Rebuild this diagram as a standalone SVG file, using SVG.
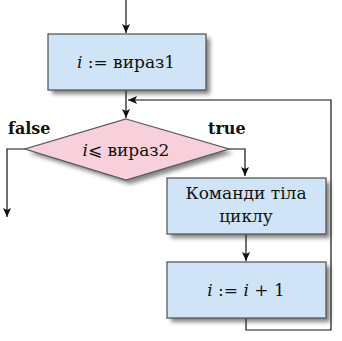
<svg xmlns="http://www.w3.org/2000/svg" width="342" height="341" viewBox="0 0 342 341">
<style>
.box{fill:#cfe4f7;stroke:#5a5a5a;stroke-width:1.3}
.dia{fill:#f8d0dc;stroke:#5a5a5a;stroke-width:1.3}
.sh{fill:#333;opacity:0.6;filter:url(#blur)}
.t{font-family:"DejaVu Serif",serif;font-size:17px;fill:#111;text-anchor:middle}
.lbl{font-family:"DejaVu Serif",serif;font-size:16px;font-weight:bold;fill:#111}
.c{fill:none;stroke:#111;stroke-width:1.2}
</style>
<defs>
<filter id="blur" x="-20%" y="-20%" width="140%" height="140%"><feGaussianBlur stdDeviation="2"/></filter>
<marker id="ah" markerWidth="10" markerHeight="10" refX="9" refY="5" orient="auto" markerUnits="userSpaceOnUse">
<path d="M0,1 L9,5 L0,9 L2,5 Z" fill="#111"/>
</marker>
</defs>
<g id="connectors">
<path class="c" d="M126,0 V33" marker-end="url(#ah)"/>
<path class="c" d="M126,90 V118" marker-end="url(#ah)"/>
<path class="c" d="M246,318 V330 H331 V100 H128" marker-end="url(#ah)"/>
<path class="c" d="M25,149 H7 V217" marker-end="url(#ah)"/>
<path class="c" d="M229,149 H245 V176" marker-end="url(#ah)"/>
<path class="c" d="M246,234 V261" marker-end="url(#ah)"/>
</g>
<g id="start">
<rect class="sh" x="52" y="38" width="158" height="56"/>
<rect class="box" x="48" y="34" width="158" height="56"/>
<text class="t" x="126" y="68"><tspan font-style="italic">i</tspan> := вираз1</text>
</g>
<g id="cond">
<polygon class="sh" points="130,123 233,153 130,184 29,153"/>
<polygon class="dia" points="126,119 229,149 126,180 25,149"/>
<text class="t" x="126" y="156"><tspan font-style="italic">i</tspan>⩽ вираз2</text>
</g>
<text class="lbl" x="8" y="134">false</text>
<text class="lbl" x="208" y="134">true</text>
<g id="body">
<rect class="sh" x="171" y="182" width="159" height="56"/>
<rect class="box" x="167" y="178" width="159" height="56"/>
<text class="t" x="246" y="199">Команди тіла</text>
<text class="t" x="246" y="222">циклу</text>
</g>
<g id="inc">
<rect class="sh" x="171" y="266" width="159" height="56"/>
<rect class="box" x="167" y="262" width="159" height="56"/>
<text class="t" x="246" y="296"><tspan font-style="italic">i</tspan> := <tspan font-style="italic">i</tspan> + 1</text>
</g>
</svg>
